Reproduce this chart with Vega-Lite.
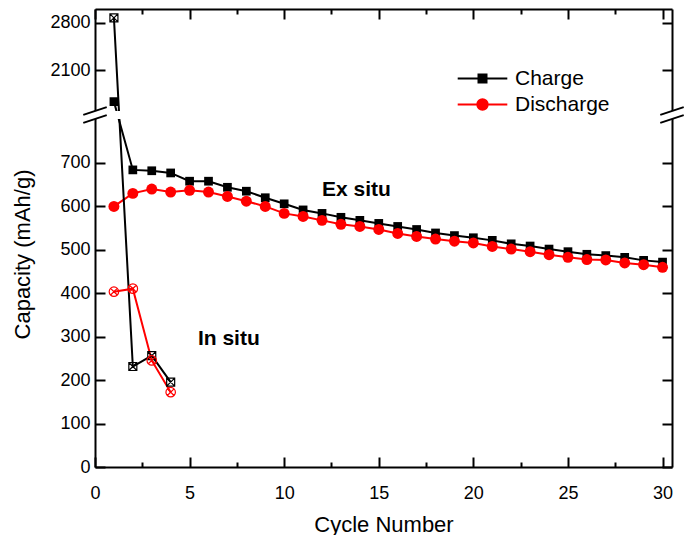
{
  "$schema": "https://vega.github.io/schema/vega-lite/v6.json",
  "width": 577,
  "height": 458,
  "autosize": "none",
  "padding": {"left": 95, "top": 9, "right": 12, "bottom": 68},
  "background": "white",
  "config": {
    "view": {"stroke": null},
    "font": "Liberation Sans",
    "axis": {
      "grid": false,
      "domainColor": "black",
      "domainWidth": 2,
      "tickColor": "black",
      "tickWidth": 2,
      "labelFont": "Liberation Sans",
      "labelFontSize": 18,
      "labelColor": "black",
      "titleFont": "Liberation Sans",
      "titleFontSize": 22,
      "titleFontWeight": "normal",
      "titleColor": "black"
    }
  },
  "datasets": {
    "main": [
      {"cycle": 1, "cap": 1638, "series": "Charge", "mode": "Ex situ"},
      {"cycle": 2, "cap": 683, "series": "Charge", "mode": "Ex situ"},
      {"cycle": 3, "cap": 681, "series": "Charge", "mode": "Ex situ"},
      {"cycle": 4, "cap": 676, "series": "Charge", "mode": "Ex situ"},
      {"cycle": 5, "cap": 657, "series": "Charge", "mode": "Ex situ"},
      {"cycle": 6, "cap": 657, "series": "Charge", "mode": "Ex situ"},
      {"cycle": 7, "cap": 643, "series": "Charge", "mode": "Ex situ"},
      {"cycle": 8, "cap": 634, "series": "Charge", "mode": "Ex situ"},
      {"cycle": 9, "cap": 619, "series": "Charge", "mode": "Ex situ"},
      {"cycle": 10, "cap": 605, "series": "Charge", "mode": "Ex situ"},
      {"cycle": 11, "cap": 591, "series": "Charge", "mode": "Ex situ"},
      {"cycle": 12, "cap": 583, "series": "Charge", "mode": "Ex situ"},
      {"cycle": 13, "cap": 574, "series": "Charge", "mode": "Ex situ"},
      {"cycle": 14, "cap": 567, "series": "Charge", "mode": "Ex situ"},
      {"cycle": 15, "cap": 560, "series": "Charge", "mode": "Ex situ"},
      {"cycle": 16, "cap": 553, "series": "Charge", "mode": "Ex situ"},
      {"cycle": 17, "cap": 546, "series": "Charge", "mode": "Ex situ"},
      {"cycle": 18, "cap": 538, "series": "Charge", "mode": "Ex situ"},
      {"cycle": 19, "cap": 532, "series": "Charge", "mode": "Ex situ"},
      {"cycle": 20, "cap": 527, "series": "Charge", "mode": "Ex situ"},
      {"cycle": 21, "cap": 521, "series": "Charge", "mode": "Ex situ"},
      {"cycle": 22, "cap": 513, "series": "Charge", "mode": "Ex situ"},
      {"cycle": 23, "cap": 508, "series": "Charge", "mode": "Ex situ"},
      {"cycle": 24, "cap": 501, "series": "Charge", "mode": "Ex situ"},
      {"cycle": 25, "cap": 495, "series": "Charge", "mode": "Ex situ"},
      {"cycle": 26, "cap": 489, "series": "Charge", "mode": "Ex situ"},
      {"cycle": 27, "cap": 486, "series": "Charge", "mode": "Ex situ"},
      {"cycle": 28, "cap": 482, "series": "Charge", "mode": "Ex situ"},
      {"cycle": 29, "cap": 475, "series": "Charge", "mode": "Ex situ"},
      {"cycle": 30, "cap": 471, "series": "Charge", "mode": "Ex situ"},
      {"cycle": 1, "cap": 599, "series": "Discharge", "mode": "Ex situ"},
      {"cycle": 2, "cap": 629, "series": "Discharge", "mode": "Ex situ"},
      {"cycle": 3, "cap": 639, "series": "Discharge", "mode": "Ex situ"},
      {"cycle": 4, "cap": 632, "series": "Discharge", "mode": "Ex situ"},
      {"cycle": 5, "cap": 636, "series": "Discharge", "mode": "Ex situ"},
      {"cycle": 6, "cap": 632, "series": "Discharge", "mode": "Ex situ"},
      {"cycle": 7, "cap": 622, "series": "Discharge", "mode": "Ex situ"},
      {"cycle": 8, "cap": 611, "series": "Discharge", "mode": "Ex situ"},
      {"cycle": 9, "cap": 599, "series": "Discharge", "mode": "Ex situ"},
      {"cycle": 10, "cap": 583, "series": "Discharge", "mode": "Ex situ"},
      {"cycle": 11, "cap": 576, "series": "Discharge", "mode": "Ex situ"},
      {"cycle": 12, "cap": 567, "series": "Discharge", "mode": "Ex situ"},
      {"cycle": 13, "cap": 558, "series": "Discharge", "mode": "Ex situ"},
      {"cycle": 14, "cap": 553, "series": "Discharge", "mode": "Ex situ"},
      {"cycle": 15, "cap": 546, "series": "Discharge", "mode": "Ex situ"},
      {"cycle": 16, "cap": 537, "series": "Discharge", "mode": "Ex situ"},
      {"cycle": 17, "cap": 530, "series": "Discharge", "mode": "Ex situ"},
      {"cycle": 18, "cap": 524, "series": "Discharge", "mode": "Ex situ"},
      {"cycle": 19, "cap": 519, "series": "Discharge", "mode": "Ex situ"},
      {"cycle": 20, "cap": 515, "series": "Discharge", "mode": "Ex situ"},
      {"cycle": 21, "cap": 507, "series": "Discharge", "mode": "Ex situ"},
      {"cycle": 22, "cap": 501, "series": "Discharge", "mode": "Ex situ"},
      {"cycle": 23, "cap": 495, "series": "Discharge", "mode": "Ex situ"},
      {"cycle": 24, "cap": 488, "series": "Discharge", "mode": "Ex situ"},
      {"cycle": 25, "cap": 482, "series": "Discharge", "mode": "Ex situ"},
      {"cycle": 26, "cap": 477, "series": "Discharge", "mode": "Ex situ"},
      {"cycle": 27, "cap": 476, "series": "Discharge", "mode": "Ex situ"},
      {"cycle": 28, "cap": 469, "series": "Discharge", "mode": "Ex situ"},
      {"cycle": 29, "cap": 465, "series": "Discharge", "mode": "Ex situ"},
      {"cycle": 30, "cap": 459, "series": "Discharge", "mode": "Ex situ"},
      {"cycle": 1, "cap": 2870, "series": "Charge", "mode": "In situ"},
      {"cycle": 2, "cap": 231, "series": "Charge", "mode": "In situ"},
      {"cycle": 3, "cap": 256, "series": "Charge", "mode": "In situ"},
      {"cycle": 4, "cap": 195, "series": "Charge", "mode": "In situ"},
      {"cycle": 1, "cap": 403, "series": "Discharge", "mode": "In situ"},
      {"cycle": 2, "cap": 410, "series": "Discharge", "mode": "In situ"},
      {"cycle": 3, "cap": 245, "series": "Discharge", "mode": "In situ"},
      {"cycle": 4, "cap": 172, "series": "Discharge", "mode": "In situ"}
    ],
    "gap": [{"x1": -1.5, "x2": 32, "y1": 800, "y2": 1500}],
    "breaks": [
      {"x1": -0.62, "x2": 0.62, "y1": 1159, "y2": 1557},
      {"x1": -0.62, "x2": 0.62, "y1": 791, "y2": 1141},
      {"x1": 29.88, "x2": 31.12, "y1": 1159, "y2": 1557},
      {"x1": 29.88, "x2": 31.12, "y1": 791, "y2": 1141}
    ],
    "notes": [
      {"label": "Ex situ", "cycle": 12.0, "cap": 636},
      {"label": "In situ", "cycle": 5.44, "cap": 295}
    ]
  },
  "layer": [
    {
      "data": {"name": "main"},
      "transform": [{"filter": "datum.mode === 'Ex situ'"}],
      "mark": {"type": "line", "strokeWidth": 2},
      "encoding": {
        "x": {"field": "cycle", "type": "quantitative",
          "scale": {"domain": [0, 30.5], "nice": false, "zero": false},
          "axis": {"orient": "bottom", "values": [0, 5, 10, 15, 20, 25, 30], "tickSize": -10, "labelPadding": 27, "labelFlush": false, "title": "Cycle Number", "titlePadding": 12}},
        "y": {"field": "cap", "type": "quantitative",
          "scale": {"type": "linear", "domain": [0, 800, 1500, 3000], "range": [458, 110, 102, 0], "nice": false, "zero": false},
          "axis": {"orient": "left", "values": [0, 100, 200, 300, 400, 500, 600, 700, 2100, 2800], "format": "d", "tickSize": -10, "labelPadding": 15, "title": "Capacity (mAh/g)", "titleX": -73, "titleY": 245, "titleBaseline": "middle"}},
        "color": {"field": "series", "type": "nominal",
          "scale": {"domain": ["Charge", "Discharge"], "range": ["#000000", "#ff0000"]},
          "legend": {
            "orient": "none", "legendX": 377, "legendY": 59, "title": null, "padding": 0,
            "labelFont": "Liberation Sans", "labelFontSize": 21, "labelColor": "black",
            "symbolSize": 64, "symbolStrokeWidth": 2, "symbolOffset": 0, "labelOffset": 22, "rowPadding": 4,
            "encode": {"symbols": {"update": {
              "shape": {"signal": "datum.value === 'Charge' ? 'M-6.2,0H6.2M-1,-1H1V1H-1Z' : 'M-6.2,0H6.2M1.3,0A1.3,1.3,0,1,1,-1.3,0A1.3,1.3,0,1,1,1.3,0Z'"},
              "stroke": {"signal": "datum.value === 'Charge' ? '#000000' : '#ff0000'"},
              "fill": {"signal": "datum.value === 'Charge' ? '#000000' : '#ff0000'"},
              "strokeWidth": {"value": 2},
              "opacity": {"value": 1}
            }}}
          }}
      }
    },
    {
      "data": {"name": "main"},
      "transform": [{"filter": "datum.mode === 'In situ'"}],
      "mark": {"type": "line", "strokeWidth": 2},
      "encoding": {
        "x": {"field": "cycle", "type": "quantitative",
          "scale": {"domain": [0, 30.5], "nice": false, "zero": false},
          "axis": {"orient": "bottom", "values": [2.5, 7.5, 12.5, 17.5, 22.5, 27.5], "tickSize": -5, "labels": false, "domain": false, "title": null}},
        "y": {"field": "cap", "type": "quantitative",
          "scale": {"type": "linear", "domain": [0, 800, 1500, 3000], "range": [458, 110, 102, 0], "nice": false, "zero": false},
          "axis": {"orient": "right", "values": [0, 100, 200, 300, 400, 500, 600, 700, 2100, 2800], "tickSize": -10, "labels": false, "title": null}},
        "color": {"field": "series", "type": "nominal",
          "scale": {"domain": ["Charge", "Discharge"], "range": ["#000000", "#ff0000"]}}
      }
    },
    {
      "data": {"name": "main"},
      "transform": [{"filter": "datum.mode === 'Ex situ'"}],
      "mark": {"type": "point", "filled": true, "opacity": 1},
      "encoding": {
        "x": {"field": "cycle", "type": "quantitative",
          "scale": {"domain": [0, 30.5], "nice": false, "zero": false},
          "axis": {"orient": "top", "values": [0, 5, 10, 15, 20, 25, 30], "tickSize": -10, "labels": false, "title": null}},
        "y": {"field": "cap", "type": "quantitative",
          "scale": {"type": "linear", "domain": [0, 800, 1500, 3000], "range": [458, 110, 102, 0], "nice": false, "zero": false},
          "axis": null},
        "fill": {"condition": {"test": "datum.series === 'Charge'", "value": "#000000"}, "value": "#ff0000"},
        "shape": {"condition": {"test": "datum.series === 'Charge'", "value": "square"}, "value": "circle"},
        "size": {"condition": {"test": "datum.series === 'Charge'", "value": 76}, "value": 120}
      }
    },
    {
      "data": {"name": "main"},
      "transform": [{"filter": "datum.mode === 'In situ' && datum.series === 'Charge'"}],
      "mark": {"type": "point", "filled": false, "opacity": 1, "color": "#000000", "strokeWidth": 1.2, "size": 64,
        "shape": "M-1,-1H1V1H-1ZM-1,-1L1,1M1,-1L-1,1"},
      "encoding": {
        "x": {"field": "cycle", "type": "quantitative",
          "scale": {"domain": [0, 30.5], "nice": false, "zero": false},
          "axis": {"orient": "top", "values": [2.5, 7.5, 12.5, 17.5, 22.5, 27.5], "tickSize": -5, "labels": false, "domain": false, "title": null}},
        "y": {"field": "cap", "type": "quantitative",
          "scale": {"type": "linear", "domain": [0, 800, 1500, 3000], "range": [458, 110, 102, 0], "nice": false, "zero": false},
          "axis": null}
      }
    },
    {
      "data": {"name": "main"},
      "transform": [{"filter": "datum.mode === 'In situ' && datum.series === 'Discharge'"}],
      "mark": {"type": "point", "filled": false, "opacity": 1, "color": "#ff0000", "strokeWidth": 1.2, "size": 90,
        "shape": "M1,0A1,1,0,1,1,-1,0A1,1,0,1,1,1,0ZM-0.707,-0.707L0.707,0.707M0.707,-0.707L-0.707,0.707"},
      "encoding": {
        "x": {"field": "cycle", "type": "quantitative",
          "scale": {"domain": [0, 30.5], "nice": false, "zero": false}, "axis": null},
        "y": {"field": "cap", "type": "quantitative",
          "scale": {"type": "linear", "domain": [0, 800, 1500, 3000], "range": [458, 110, 102, 0], "nice": false, "zero": false},
          "axis": null}
      }
    },
    {
      "data": {"name": "gap"},
      "mark": {"type": "rect", "color": "white", "opacity": 1},
      "encoding": {
        "x": {"field": "x1", "type": "quantitative", "scale": {"domain": [0, 30.5], "nice": false, "zero": false}, "axis": null},
        "x2": {"field": "x2"},
        "y": {"field": "y1", "type": "quantitative",
          "scale": {"type": "linear", "domain": [0, 800, 1500, 3000], "range": [458, 110, 102, 0], "nice": false, "zero": false}, "axis": null},
        "y2": {"field": "y2"}
      }
    },
    {
      "data": {"name": "breaks"},
      "mark": {"type": "rule", "color": "black", "strokeWidth": 2},
      "encoding": {
        "x": {"field": "x1", "type": "quantitative", "scale": {"domain": [0, 30.5], "nice": false, "zero": false}, "axis": null},
        "x2": {"field": "x2"},
        "y": {"field": "y1", "type": "quantitative",
          "scale": {"type": "linear", "domain": [0, 800, 1500, 3000], "range": [458, 110, 102, 0], "nice": false, "zero": false}, "axis": null},
        "y2": {"field": "y2"}
      }
    },
    {
      "data": {"name": "notes"},
      "mark": {"type": "text", "font": "Liberation Sans", "fontSize": 21, "fontWeight": "bold", "align": "left", "baseline": "middle", "color": "black"},
      "encoding": {
        "x": {"field": "cycle", "type": "quantitative", "scale": {"domain": [0, 30.5], "nice": false, "zero": false}, "axis": null},
        "y": {"field": "cap", "type": "quantitative",
          "scale": {"type": "linear", "domain": [0, 800, 1500, 3000], "range": [458, 110, 102, 0], "nice": false, "zero": false}, "axis": null},
        "text": {"field": "label"}
      }
    }
  ],
  "resolve": {"axis": {"x": "independent", "y": "independent"}}
}
